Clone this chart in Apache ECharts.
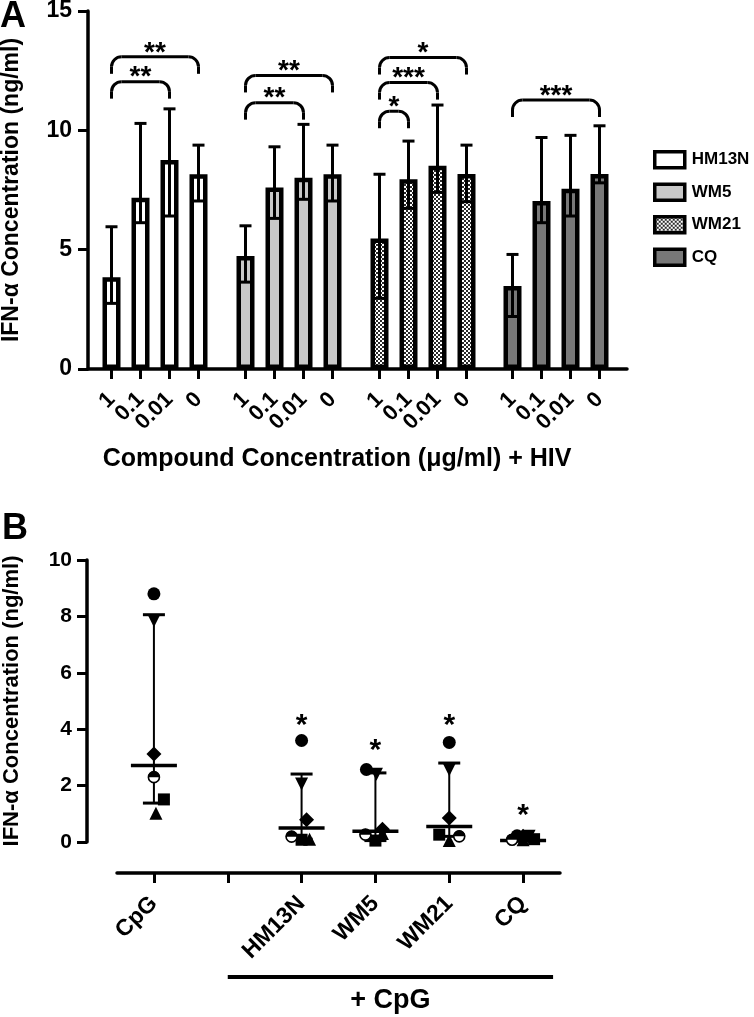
<!DOCTYPE html>
<html><head><meta charset="utf-8">
<script src="https://cdn.jsdelivr.net/npm/echarts@6/dist/echarts.min.js"></script>
<style>html,body{margin:0;padding:0;background:#fff}#c{width:754px;height:1017px}</style>
</head><body><div id="c"></div>
<script>
// ================= Panel A data =================
const concLabels = ['1', '0.1', '0.01', '0'];
const compounds = ['HM13N', 'WM5', 'WM21', 'CQ'];

const meanHM13N = [3.84, 7.18, 8.76, 8.16];
const lowHM13N  = [2.75, 6.13, 6.41, 7.04];
const highHM13N = [5.96, 10.29, 10.90, 9.38];

const meanWM5 = [4.73, 7.60, 8.01, 8.16];
const lowWM5  = [3.64, 6.31, 7.11, 7.04];
const highWM5 = [6.00, 9.31, 10.25, 9.38];

const meanWM21 = [5.47, 7.95, 8.52, 8.17];
const lowWM21  = [2.96, 6.73, 7.40, 7.01];
const highWM21 = [8.16, 9.55, 11.06, 9.38];

const meanCQ = [3.48, 7.04, 7.55, 8.17];
const lowCQ  = [2.20, 6.13, 6.41, 7.80];
const highCQ = [4.80, 9.70, 9.79, 10.19];

// significance brackets: [fromIndex, toIndex, yLevel, label]
const sigHM13N = [[0, 2, 12.04, '**'], [0, 3, 13.08, '**']];
const sigWM5   = [[0, 2, 11.16, '**'], [0, 3, 12.30, '**']];
const sigWM21  = [[0, 1, 10.80, '*'], [0, 2, 12.00, '***'], [0, 3, 13.05, '*']];
const sigCQ    = [[0, 3, 11.27, '***']];

const yTicksA = [0, 5, 10, 15];

// ================= Panel B data =================
const groupsB = ['CpG', '', 'HM13N', 'WM5', 'WM21', 'CQ'];
const ptCircle  = [8.80, null, 3.60, 2.57, 3.53, 0.22];
const ptTriDown = [7.85, null, 2.06, 2.40, 2.56, 0.20];
const ptDiamond = [3.12, null, 0.79, 0.45, 0.85, 0.20];
const ptHalf    = [2.30, null, 0.19, 0.26, 0.20, 0.08];
const ptSquare  = [1.51, null, 0.08, 0.05, 0.26, 0.10];
const ptTriUp   = [1.02, null, 0.10, 0.30, 0.05, 0.08];
const medianB = [2.71, null, 0.50, 0.38, 0.55, 0.05];
const q1B     = [1.38, null, 0.10, 0.05, 0.20, 0.03];
const q3B     = [8.06, null, 2.41, 2.45, 2.80, 0.15];
const starB   = [null, null, 4.24, 3.35, 4.24, 1.05];

// ================= Styles =================
const FONT = 'Liberation Sans, Arial, sans-serif';
const JITTER_PX = {   // horizontal marker offsets (style only)
  circle:  [0, 0, 0, -9, 0, -6],
  triDown: [0, 0, 0, 1, 0, 6],
  diamond: [0, 0, 5, 7, 0, 0],
  half:    [0, 0, -10, -10, 10, -11],
  square:  [10, 0, 0, 0, -10, 11],
  triUp:   [2, 0, 8, 7, 0, 0]
};

const pc = document.createElement('canvas');
pc.width = 4; pc.height = 4;
const pctx = pc.getContext('2d');
pctx.fillStyle = '#ffffff'; pctx.fillRect(0, 0, 4, 4);
pctx.fillStyle = '#2a2a2a'; pctx.fillRect(0, 0, 2, 2); pctx.fillRect(2, 2, 2, 2);
const fills = ['#ffffff', '#c8c8c8', {image: pc, repeat: 'repeat'}, '#787878'];

const means = [meanHM13N, meanWM5, meanWM21, meanCQ];
const lows = [lowHM13N, lowWM5, lowWM21, lowCQ];
const highs = [highHM13N, highWM5, highWM21, highCQ];
const sigs = [sigHM13N, sigWM5, sigWM21, sigCQ];
const groupLeft = [97, 231, 365, 498];

const chart = echarts.init(document.getElementById('c'));

function errRender(params, api) {
  const x = api.value(0);
  const lo = api.coord([x, api.value(1)]);
  const hi = api.coord([x, api.value(2)]);
  const w = 6, st = {stroke: '#000', lineWidth: 3};
  return {type: 'group', children: [
    {type: 'line', shape: {x1: lo[0], y1: lo[1], x2: hi[0], y2: hi[1]}, style: st},
    {type: 'line', shape: {x1: lo[0] - w, y1: lo[1], x2: lo[0] + w, y2: lo[1]}, style: st},
    {type: 'line', shape: {x1: hi[0] - w, y1: hi[1], x2: hi[0] + w, y2: hi[1]}, style: st}
  ]};
}

function makeBracketRender(list) {
  return function (params, api) {
    const a = api.coord([api.value(0), api.value(2)]);
    const b = api.coord([api.value(1), api.value(2)]);
    const x1 = a[0], x2 = b[0], y0 = a[1], r = 10, d = 17;
    const st = {stroke: '#000', lineWidth: 3, fill: 'none'};
    return {type: 'group', children: [
      {type: 'line', shape: {x1: x1, y1: y0 + r, x2: x1, y2: y0 + d}, style: st},
      {type: 'arc', shape: {cx: x1 + r, cy: y0 + r, r: r, startAngle: Math.PI, endAngle: 1.5 * Math.PI, clockwise: true}, style: st},
      {type: 'line', shape: {x1: x1 + r, y1: y0, x2: x2 - r, y2: y0}, style: st},
      {type: 'arc', shape: {cx: x2 - r, cy: y0 + r, r: r, startAngle: 1.5 * Math.PI, endAngle: 2 * Math.PI, clockwise: true}, style: st},
      {type: 'line', shape: {x1: x2, y1: y0 + r, x2: x2, y2: y0 + d}, style: st},
      {type: 'text', x: (x1 + x2) / 2, y: y0 - 4, style: {text: list[params.dataIndex][3], fill: '#000', font: 'bold 28px ' + FONT, align: 'center', verticalAlign: 'middle'}}
    ]};
  };
}

function medRender(params, api) {
  const i = api.value(0);
  const m = api.coord([i, api.value(1)]);
  const lo = api.coord([i, api.value(2)]);
  const hi = api.coord([i, api.value(3)]);
  const st = {stroke: '#000', lineWidth: 2};
  const cap = {stroke: '#000', lineWidth: 3};
  return {type: 'group', children: [
    {type: 'line', shape: {x1: m[0], y1: lo[1], x2: m[0], y2: hi[1]}, style: st},
    {type: 'line', shape: {x1: m[0] - 11, y1: lo[1], x2: m[0] + 11, y2: lo[1]}, style: cap},
    {type: 'line', shape: {x1: m[0] - 11, y1: hi[1], x2: m[0] + 11, y2: hi[1]}, style: cap},
    {type: 'line', shape: {x1: m[0] - 23, y1: m[1], x2: m[0] + 23, y2: m[1]}, style: {stroke: '#000', lineWidth: 3.5}}
  ]};
}

function starRender(params, api) {
  const p = api.coord([api.value(0), api.value(1)]);
  return {type: 'text', x: p[0], y: p[1] + 3, style: {text: '*', fill: '#000', font: 'bold 30px ' + FONT, align: 'center', verticalAlign: 'middle'}};
}

const gridBase = {outerBoundsMode: 'none', containLabel: false};
const grids = [Object.assign({left: 88, width: 539, top: 11, height: 358}, gridBase)];
const xAxes = [{gridIndex: 0, type: 'value', min: 0, max: 1,
  axisLine: {onZero: false, lineStyle: {color: '#000', width: 3.5}}, axisTick: {show: false}, axisLabel: {show: false}, splitLine: {show: false}}];
const yAxes = [{gridIndex: 0, type: 'value', min: 0, max: 15, interval: 5,
  name: 'IFN-α Concentration (ng/ml)', nameLocation: 'middle', nameGap: 65, nameRotate: 90,
  nameTextStyle: {fontSize: 23, fontWeight: 'bold', color: '#000', fontFamily: FONT},
  axisLine: {show: true, onZero: false, lineStyle: {color: '#000', width: 3.5}},
  axisTick: {show: true, length: 10, lineStyle: {color: '#000', width: 3}},
  axisLabel: {fontSize: 23, fontWeight: 'bold', color: '#000', margin: 16, fontFamily: FONT,
    formatter: v => yTicksA.indexOf(v) >= 0 ? String(v) : ''},
  splitLine: {show: false}}];
const series = [];

for (let g = 0; g < 4; g++) {
  const gi = g + 1;
  grids.push(Object.assign({left: groupLeft[g], width: 116, top: 11, height: 358}, gridBase));
  xAxes.push({gridIndex: gi, type: 'category', data: concLabels,
    axisLine: {show: false, onZero: false}, axisTick: {show: true, alignWithLabel: true, length: 10, lineStyle: {color: '#000', width: 3}},
    axisLabel: {interval: 0, rotate: 45, margin: 27, fontSize: 22, fontWeight: 'bold', color: '#000', fontFamily: FONT}});
  yAxes.push({gridIndex: gi, type: 'value', min: 0, max: 15, show: false, splitLine: {show: false}});
  series.push({name: compounds[g], type: 'bar', xAxisIndex: gi, yAxisIndex: gi, data: means[g],
    barWidth: 18, itemStyle: {color: fills[g], borderColor: '#000', borderWidth: 4.5}, z: 2});
  series.push({type: 'custom', xAxisIndex: gi, yAxisIndex: gi, renderItem: errRender, z: 3,
    data: means[g].map((v, i) => [i, lows[g][i], highs[g][i]]), encode: {x: 0, y: [1, 2]}});
  const list = sigs[g];
  series.push({type: 'custom', xAxisIndex: gi, yAxisIndex: gi, renderItem: makeBracketRender(list), z: 3,
    data: list.map(b => [b[0], b[1], b[2]]), encode: {x: [0, 1], y: 2}});
}

// Panel B
grids.push(Object.assign({left: 117, width: 443, top: 560, height: 282}, gridBase));
const bi = 5;
xAxes.push({gridIndex: bi, type: 'category', data: groupsB, offset: 31,
  axisLine: {onZero: false, lineStyle: {color: '#000', width: 3.5}},
  axisTick: {show: true, alignWithLabel: true, interval: 0, length: 10, lineStyle: {color: '#000', width: 3}},
  axisLabel: {interval: 0, rotate: 45, margin: 27, fontSize: 23, fontWeight: 'bold', color: '#000', fontFamily: FONT}});
yAxes.push({gridIndex: bi, type: 'value', min: 0, max: 10, interval: 2, offset: 30,
  name: 'IFN-α Concentration (ng/ml)', nameLocation: 'middle', nameGap: 64, nameRotate: 90,
  nameTextStyle: {fontSize: 22, fontWeight: 'bold', color: '#000', fontFamily: FONT},
  axisLine: {show: true, onZero: false, lineStyle: {color: '#000', width: 3.5}},
  axisTick: {show: true, length: 10, lineStyle: {color: '#000', width: 3}},
  axisLabel: {fontSize: 21, fontWeight: 'bold', color: '#000', margin: 15, fontFamily: FONT},
  splitLine: {show: false}});

series.push({type: 'custom', xAxisIndex: bi, yAxisIndex: bi, renderItem: medRender, z: 2,
  data: medianB.map((m, i) => m == null ? null : [i, m, q1B[i], q3B[i]]).filter(d => d),
  encode: {x: 0, y: [1, 2, 3]}});
series.push({type: 'custom', xAxisIndex: bi, yAxisIndex: bi, renderItem: starRender, z: 4,
  data: starB.map((s, i) => s == null ? null : [i, s]).filter(d => d), encode: {x: 0, y: 1}});

function pts(vals, key, extra) {
  return vals.map((v, i) => v == null ? '-' : {value: [i, v], symbolOffset: [JITTER_PX[key][i], (extra || 0)]});
}
const markerDefs = [
  {vals: ptTriUp, key: 'triUp', symbol: 'triangle', size: 13},
  {vals: ptSquare, key: 'square', symbol: 'rect', size: 12},
  {vals: ptDiamond, key: 'diamond', symbol: 'diamond', size: 15},
  {vals: ptTriDown, key: 'triDown', symbol: 'triangle', size: 13, rotate: 180},
  {vals: ptCircle, key: 'circle', symbol: 'circle', size: 13}
];
markerDefs.forEach(m => {
  series.push({type: 'scatter', xAxisIndex: bi, yAxisIndex: bi, symbol: m.symbol, symbolSize: m.size,
    symbolRotate: m.rotate || 0, itemStyle: {color: '#000', opacity: 1}, z: 3, data: pts(m.vals, m.key), silent: true});
});
series.push({type: 'scatter', xAxisIndex: bi, yAxisIndex: bi, symbol: 'circle', symbolSize: 11,
  itemStyle: {color: '#fff', borderColor: '#000', borderWidth: 1.6, opacity: 1}, z: 3, data: pts(ptHalf, 'half')});
series.push({type: 'scatter', xAxisIndex: bi, yAxisIndex: bi, symbol: 'path://M0,10 A10,10 0 0 1 20,10 Z',
  symbolSize: [12, 6], itemStyle: {color: '#000', opacity: 1}, z: 3, data: pts(ptHalf, 'half', -3)});

const option = {
  animation: false,
  backgroundColor: '#fff',
  textStyle: {fontFamily: FONT},
  grid: grids, xAxis: xAxes, yAxis: yAxes, series: series,
  legend: {data: compounds, orient: 'vertical', left: 648, top: 145, itemWidth: 30, itemHeight: 16, itemGap: 13,
    icon: 'rect', itemStyle: {borderWidth: 3.5, borderColor: '#000'},
    textStyle: {fontSize: 17, fontWeight: 'bold', color: '#000', fontFamily: FONT, padding: [0, 0, 0, 2]}},
  graphic: [
    {id: 'lblA', type: 'text', x: 0, y: 17, style: {text: 'A', font: 'bold 36px ' + FONT, fill: '#000', align: 'left', verticalAlign: 'middle'}},
    {id: 'lblB', type: 'text', x: 2, y: 529, style: {text: 'B', font: 'bold 36px ' + FONT, fill: '#000', align: 'left', verticalAlign: 'middle'}},
    {id: 'xTitleA', type: 'text', x: 337, y: 459, style: {text: 'Compound Concentration (μg/ml) + HIV', font: 'bold 25px ' + FONT, fill: '#000', align: 'center', verticalAlign: 'middle'}}
  ]
};
chart.setOption(option);

const pStart = chart.convertToPixel({gridIndex: bi}, [1, 0]);
const pEnd = chart.convertToPixel({gridIndex: bi}, [5, 0]);
const lineY = 977;
chart.setOption({graphic: [
  {id: 'cpgLine', type: 'line', shape: {x1: pStart[0], y1: lineY, x2: pEnd[0] + 30, y2: lineY}, style: {stroke: '#000', lineWidth: 4}},
  {id: 'cpgText', type: 'text', x: (pStart[0] + pEnd[0] + 30) / 2, y: 1001, style: {text: '+ CpG', font: 'bold 27px ' + FONT, fill: '#000', align: 'center', verticalAlign: 'middle'}}
]});
</script>
</body></html>
